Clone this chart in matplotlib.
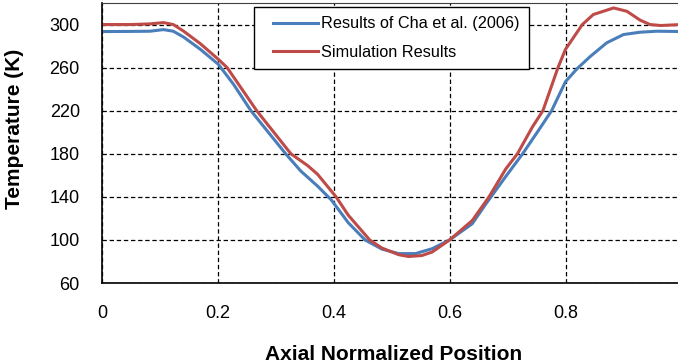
import matplotlib
matplotlib.use("Agg")
import matplotlib.pyplot as plt
from matplotlib.legend_handler import HandlerLine2D

# values
cha_x = [0.0, 0.05, 0.083, 0.106, 0.123, 0.141, 0.17, 0.201, 0.227, 0.257, 0.287, 0.317,
         0.343, 0.372, 0.396, 0.425, 0.454, 0.483, 0.512, 0.541, 0.57, 0.6, 0.639, 0.662,
         0.697, 0.726, 0.755, 0.776, 0.8, 0.82, 0.842, 0.871, 0.9, 0.929, 0.958, 1.0]
cha_2006 = [293.5, 293.6, 293.8, 295.3, 293.8, 288.3, 276.9, 263.0, 244.5, 220.0, 200.0, 180.0,
            164.0, 150.0, 137.0, 116.0, 100.0, 91.5, 87.3, 87.3, 91.9, 100.0, 115.0, 133.0,
            159.0, 180.0, 203.0, 220.0, 247.0, 259.0, 270.0, 283.0, 290.7, 292.9, 293.8, 293.5]
sim_x = [0.0, 0.05, 0.083, 0.106, 0.123, 0.141, 0.17, 0.201, 0.216, 0.267, 0.326, 0.355,
         0.372, 0.404, 0.425, 0.462, 0.483, 0.512, 0.529, 0.552, 0.57, 0.6, 0.639, 0.668,
         0.697, 0.717, 0.743, 0.761, 0.787, 0.8, 0.829, 0.848, 0.883, 0.906, 0.929, 0.946,
         0.964, 1.0]
simulation = [300.0, 300.0, 300.6, 301.8, 300.0, 293.8, 282.1, 267.6, 260.0, 220.0, 180.0, 169.0,
              161.0, 140.0, 123.0, 100.0, 92.5, 86.3, 84.6, 85.5, 88.8, 100.0, 118.0, 140.0,
              166.0, 180.0, 205.0, 220.0, 260.0, 277.0, 300.0, 309.3, 315.4, 312.3, 304.0, 300.0,
              299.1, 300.0]
labels = ["Results of Cha et al. (2006)", "Simulation Results"]
x_ticks = [0, 0.2, 0.4, 0.6, 0.8, 1]
x_tick_labels = ["0", "0.2", "0.4", "0.6", "0.8", "1"]
y_ticks = [60, 100, 140, 180, 220, 260, 300]

BLUE = "#4a7ebb"
RED = "#be4b48"

plt.rcParams["font.family"] = ["Liberation Sans", "DejaVu Sans"]


class ShiftedLine(HandlerLine2D):
    # start the legend line a little further in from the frame
    def create_artists(self, legend, orig_handle, xdescent, ydescent, width, height, fontsize, trans):
        shift = 7
        return super().create_artists(legend, orig_handle, xdescent - shift, ydescent,
                                      width - shift, height, fontsize, trans)


fig = plt.figure(figsize=(6.78, 3.64), dpi=100)
ax = fig.add_axes([102 / 678, 81 / 364, 1.005 - 102 / 678, 280 / 364])

line_cha, = ax.plot(cha_x, cha_2006, color=BLUE, lw=2.2, solid_joinstyle="round",
                    label=labels[0])
line_sim, = ax.plot(sim_x, simulation, color=RED, lw=2.2, solid_joinstyle="round",
                    label=labels[1])

ax.set_xlim(0, 1)
ax.set_ylim(60, 320)
ax.set_xticks(x_ticks)
ax.set_xticklabels(x_tick_labels)
ax.set_yticks(y_ticks)
ax.tick_params(length=0, labelsize=13)
ax.tick_params(axis="y", pad=16)
ax.tick_params(axis="x", pad=16)

ax.grid(True, color="black", lw=0.9, linestyle=(0, (3.5, 2.2)))
ax.set_axisbelow(True)
for side in ["left", "bottom"]:
    ax.spines[side].set_linewidth(1.2)
ax.spines["top"].set_color("#404040")
ax.spines["right"].set_visible(False)

ax.set_xlabel("Axial Normalized Position", fontsize=15, fontweight="bold")
ax.set_ylabel("Temperature (K)", fontsize=15, fontweight="bold")
ax.xaxis.set_label_coords(0.503, -0.22)
ax.yaxis.set_label_coords(-0.134, 0.55)

leg = ax.legend(handles=[line_cha, line_sim], loc="upper left",
                bbox_to_anchor=(254 / 678, 1 - 7.3 / 364), bbox_transform=fig.transFigure,
                borderaxespad=0, fontsize=11.7, frameon=True, fancybox=False,
                framealpha=1, edgecolor="black", borderpad=0.55, labelspacing=0.85,
                handlelength=3.4, handletextpad=0.2,
                handler_map={line_cha: ShiftedLine(), line_sim: ShiftedLine()})
leg.get_frame().set_linewidth(1.0)

fig.savefig("out.png", dpi=100)
